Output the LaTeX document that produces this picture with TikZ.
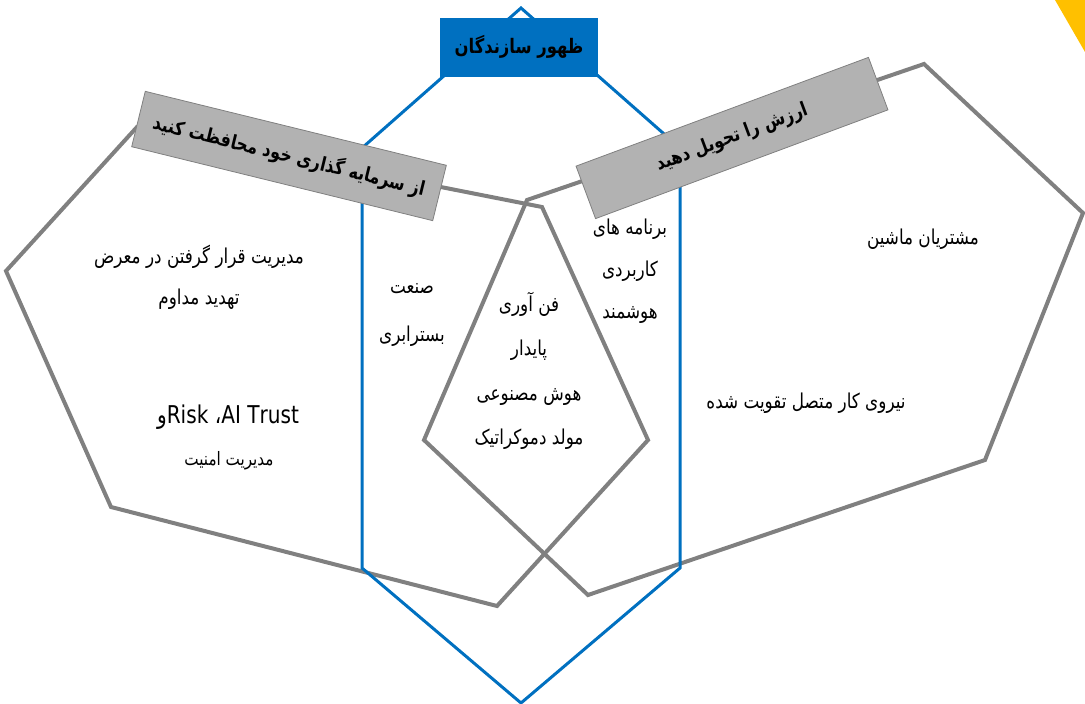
\documentclass[tikz,border=0pt]{standalone}
\usepackage{fontspec}
\newfontfamily\arabicfont[Script=Arabic,FakeStretch=0.82]{DejaVu Sans}
\TeXXeTstate=1
\usetikzlibrary{positioning}
\definecolor{hexgray}{RGB}{128,128,128}
\definecolor{brandblue}{RGB}{0,112,192}
\definecolor{tagfill}{RGB}{178,178,178}
\definecolor{cornergold}{RGB}{255,192,0}
\tikzset{
  hexline/.style={draw=hexgray, line width=4pt},
  blueline/.style={draw=brandblue, line width=3pt},
  tag/.style={fill=tagfill, draw=gray, line width=0.8pt, inner sep=0pt,
    minimum width=310pt, minimum height=57pt,
    font=\arabicfont\bfseries\fontsize{19.5}{22}\selectfont},
  txt/.style={font=\arabicfont\fontsize{20.5}{43}\selectfont, align=center, inner sep=0pt},
}
\begin{document}
\begin{tikzpicture}[x=1pt, y=-1pt]
	\useasboundingbox (0,0) rectangle (1085,704);
	\fill[cornergold] (1055,0) -- (1085,0) -- (1085,52) -- cycle;
	\draw[hexline] (6,271) -- (137,127) -- (542,207) -- (648,440) -- (497,606) -- (111,507) -- cycle;
	\draw[hexline] (527,200) -- (924,64) -- (1083,213) -- (985,460) -- (588,595) -- (424,440) -- cycle;
	\draw[blueline] (521,8) -- (680,148) -- (680,568) -- (521,703) -- (362,568) -- (362,148) -- cycle;
	\node (builders) [fill=brandblue, minimum width=158pt, minimum height=59pt, inner sep=0pt,
		font=\arabicfont\bfseries\fontsize{20}{22}\selectfont] at (519,47) {\beginR ظهور سازندگان\endR};
	\node (protect) [tag, rotate=-13.8] at (289,156) {\beginR از سرمایه گذاری خود محافظت کنید\endR};
	\node (deliver) [tag, rotate=20.4, minimum width=312pt, minimum height=56pt] at (732,138) {\beginR ارزش را تحویل دهید\endR};
	\node (threat) [txt, font=\arabicfont\fontsize{20.5}{41}\selectfont] at (199,277) {\beginR مدیریت قرار گرفتن در معرض\endR\\ \beginR تهدید مداوم\endR};
	\node (trism) [txt, font=\arabicfont\fontsize{24.5}{28}\selectfont] at (228,417) {\beginR\beginL AI Trust\endL، \beginL Risk\endL و\endR};
	\node (security) [txt, font=\arabicfont\fontsize{18.5}{22}\selectfont] at (229,461) {\beginR مدیریت امنیت\endR};
	\node (infra) [txt, font=\arabicfont\fontsize{20.5}{48}\selectfont] at (412,315) {\beginR صنعت\endR\\ \beginR بسترابری\endR};
	\node (sustain) [txt, font=\arabicfont\fontsize{20.5}{44.5}\selectfont] at (529,371) {\beginR فن آوری\endR\\ \beginR پایدار\endR\\ \beginR هوش مصنوعی\endR\\ \beginR مولد دموکراتیک\endR};
	\node (apps) [txt, font=\arabicfont\fontsize{20.5}{42}\selectfont] at (630,271) {\beginR برنامه های\endR\\ \beginR کاربردی\endR\\ \beginR هوشمند\endR};
	\node (machine) [txt] at (923,239) {\beginR مشتریان ماشین\endR};
	\node (workforce) [txt] at (806,403) {\beginR نیروی کار متصل تقویت شده\endR};
\end{tikzpicture}
\end{document}
